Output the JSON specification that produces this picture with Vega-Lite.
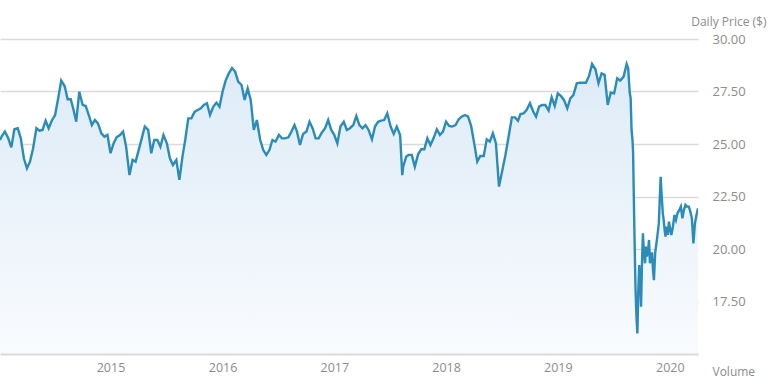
{
  "$schema": "https://vega.github.io/schema/vega-lite/v6.json",
  "width": 698,
  "height": 315,
  "autosize": {"type": "none"},
  "padding": {"left": 0, "top": 39, "right": 75, "bottom": 28},
  "background": "white",
  "config": {"view": {"stroke": null}, "font": "Open Sans"},
  "data": {"values": [
    {"date": "2014-07-05", "price": 25.19}, {"date": "2014-07-11", "price": 25.38}, {"date": "2014-07-21", "price": 25.59},
    {"date": "2014-08-01", "price": 25.27}, {"date": "2014-08-11", "price": 24.84}, {"date": "2014-08-21", "price": 25.70},
    {"date": "2014-09-01", "price": 25.75}, {"date": "2014-09-11", "price": 25.27}, {"date": "2014-09-21", "price": 24.32},
    {"date": "2014-10-01", "price": 23.84}, {"date": "2014-10-11", "price": 24.16}, {"date": "2014-10-21", "price": 24.79},
    {"date": "2014-11-01", "price": 25.75}, {"date": "2014-11-11", "price": 25.63}, {"date": "2014-11-21", "price": 25.67},
    {"date": "2014-12-01", "price": 26.11}, {"date": "2014-12-11", "price": 25.75}, {"date": "2014-12-21", "price": 26.11},
    {"date": "2015-01-01", "price": 26.38}, {"date": "2015-01-11", "price": 27.17}, {"date": "2015-01-21", "price": 28.02},
    {"date": "2015-02-01", "price": 27.76}, {"date": "2015-02-11", "price": 27.13}, {"date": "2015-02-21", "price": 27.13},
    {"date": "2015-03-01", "price": 26.70}, {"date": "2015-03-11", "price": 26.06}, {"date": "2015-03-21", "price": 27.49},
    {"date": "2015-04-01", "price": 26.86}, {"date": "2015-04-11", "price": 26.81}, {"date": "2015-04-21", "price": 26.38},
    {"date": "2015-05-01", "price": 25.90}, {"date": "2015-05-11", "price": 26.14}, {"date": "2015-05-21", "price": 25.98},
    {"date": "2015-06-01", "price": 25.51}, {"date": "2015-06-11", "price": 25.35}, {"date": "2015-06-21", "price": 25.43},
    {"date": "2015-07-01", "price": 24.56}, {"date": "2015-07-11", "price": 25.03}, {"date": "2015-07-21", "price": 25.32},
    {"date": "2015-08-01", "price": 25.43}, {"date": "2015-08-11", "price": 25.59}, {"date": "2015-08-21", "price": 24.87},
    {"date": "2015-09-01", "price": 23.52}, {"date": "2015-09-11", "price": 24.24}, {"date": "2015-09-21", "price": 24.16},
    {"date": "2015-10-01", "price": 24.71}, {"date": "2015-10-11", "price": 25.27}, {"date": "2015-10-21", "price": 25.83},
    {"date": "2015-11-01", "price": 25.67}, {"date": "2015-11-11", "price": 24.56}, {"date": "2015-11-21", "price": 25.19},
    {"date": "2015-12-01", "price": 25.19}, {"date": "2015-12-11", "price": 24.87}, {"date": "2015-12-21", "price": 25.43},
    {"date": "2016-01-01", "price": 25.03}, {"date": "2016-01-11", "price": 24.32}, {"date": "2016-01-21", "price": 24.00},
    {"date": "2016-02-01", "price": 24.24}, {"date": "2016-02-11", "price": 23.29}, {"date": "2016-02-21", "price": 24.40},
    {"date": "2016-03-01", "price": 25.19}, {"date": "2016-03-11", "price": 26.22}, {"date": "2016-03-21", "price": 26.22},
    {"date": "2016-04-01", "price": 26.54}, {"date": "2016-04-11", "price": 26.62}, {"date": "2016-04-21", "price": 26.70},
    {"date": "2016-05-01", "price": 26.86}, {"date": "2016-05-11", "price": 26.94}, {"date": "2016-05-21", "price": 26.38},
    {"date": "2016-06-01", "price": 26.78}, {"date": "2016-06-11", "price": 26.97}, {"date": "2016-06-21", "price": 26.78},
    {"date": "2016-07-01", "price": 27.49}, {"date": "2016-07-11", "price": 28.02}, {"date": "2016-07-21", "price": 28.35},
    {"date": "2016-08-01", "price": 28.62}, {"date": "2016-08-11", "price": 28.45}, {"date": "2016-08-21", "price": 27.97},
    {"date": "2016-09-01", "price": 27.81}, {"date": "2016-09-11", "price": 27.10}, {"date": "2016-09-21", "price": 27.65},
    {"date": "2016-10-01", "price": 27.10}, {"date": "2016-10-11", "price": 25.67}, {"date": "2016-10-21", "price": 26.14},
    {"date": "2016-11-01", "price": 25.19}, {"date": "2016-11-11", "price": 24.71}, {"date": "2016-11-21", "price": 24.48},
    {"date": "2016-12-01", "price": 24.71}, {"date": "2016-12-11", "price": 25.19}, {"date": "2016-12-21", "price": 25.11},
    {"date": "2017-01-01", "price": 25.43}, {"date": "2017-01-11", "price": 25.27}, {"date": "2017-01-21", "price": 25.27},
    {"date": "2017-02-01", "price": 25.32}, {"date": "2017-02-11", "price": 25.59}, {"date": "2017-02-21", "price": 25.90},
    {"date": "2017-03-01", "price": 25.59}, {"date": "2017-03-11", "price": 24.95}, {"date": "2017-03-21", "price": 25.48},
    {"date": "2017-04-01", "price": 25.59}, {"date": "2017-04-11", "price": 26.06}, {"date": "2017-04-21", "price": 25.75},
    {"date": "2017-05-01", "price": 25.27}, {"date": "2017-05-11", "price": 25.27}, {"date": "2017-05-21", "price": 25.54},
    {"date": "2017-06-01", "price": 25.75}, {"date": "2017-06-11", "price": 26.14}, {"date": "2017-06-21", "price": 25.67},
    {"date": "2017-07-01", "price": 25.43}, {"date": "2017-07-11", "price": 25.03}, {"date": "2017-07-21", "price": 25.83},
    {"date": "2017-08-01", "price": 26.06}, {"date": "2017-08-11", "price": 25.67}, {"date": "2017-08-21", "price": 25.75},
    {"date": "2017-09-01", "price": 25.90}, {"date": "2017-09-11", "price": 26.33}, {"date": "2017-09-21", "price": 25.90},
    {"date": "2017-10-01", "price": 25.75}, {"date": "2017-10-11", "price": 25.90}, {"date": "2017-10-21", "price": 25.67},
    {"date": "2017-11-01", "price": 25.22}, {"date": "2017-11-11", "price": 25.83}, {"date": "2017-11-21", "price": 26.06},
    {"date": "2017-12-01", "price": 26.11}, {"date": "2017-12-11", "price": 26.14}, {"date": "2017-12-21", "price": 26.46},
    {"date": "2018-01-01", "price": 25.83}, {"date": "2018-01-11", "price": 25.48}, {"date": "2018-01-21", "price": 25.83},
    {"date": "2018-02-01", "price": 25.43}, {"date": "2018-02-08", "price": 23.52}, {"date": "2018-02-11", "price": 23.92}, {"date": "2018-02-21", "price": 24.40},
    {"date": "2018-03-01", "price": 24.48}, {"date": "2018-03-11", "price": 24.48}, {"date": "2018-03-21", "price": 23.92},
    {"date": "2018-04-01", "price": 24.52}, {"date": "2018-04-11", "price": 24.75}, {"date": "2018-04-21", "price": 24.75},
    {"date": "2018-05-01", "price": 25.27}, {"date": "2018-05-11", "price": 24.95}, {"date": "2018-05-21", "price": 25.27},
    {"date": "2018-06-01", "price": 25.70}, {"date": "2018-06-11", "price": 25.43}, {"date": "2018-06-21", "price": 25.59},
    {"date": "2018-07-01", "price": 26.06}, {"date": "2018-07-11", "price": 25.86}, {"date": "2018-07-21", "price": 25.83},
    {"date": "2018-08-01", "price": 25.90}, {"date": "2018-08-11", "price": 26.17}, {"date": "2018-08-21", "price": 26.30},
    {"date": "2018-09-01", "price": 26.38}, {"date": "2018-09-11", "price": 26.30}, {"date": "2018-09-21", "price": 25.86},
    {"date": "2018-10-01", "price": 25.03}, {"date": "2018-10-11", "price": 24.16}, {"date": "2018-10-21", "price": 24.43},
    {"date": "2018-11-01", "price": 24.43}, {"date": "2018-11-11", "price": 25.22}, {"date": "2018-11-21", "price": 25.11},
    {"date": "2018-12-01", "price": 25.51}, {"date": "2018-12-11", "price": 25.03}, {"date": "2018-12-21", "price": 22.97},
    {"date": "2019-01-01", "price": 23.76}, {"date": "2019-01-11", "price": 24.48}, {"date": "2019-01-21", "price": 25.32},
    {"date": "2019-02-01", "price": 26.27}, {"date": "2019-02-11", "price": 26.27}, {"date": "2019-02-21", "price": 26.11},
    {"date": "2019-03-01", "price": 26.43}, {"date": "2019-03-11", "price": 26.46}, {"date": "2019-03-21", "price": 26.62},
    {"date": "2019-04-01", "price": 26.94}, {"date": "2019-04-11", "price": 26.57}, {"date": "2019-04-21", "price": 26.30},
    {"date": "2019-05-01", "price": 26.78}, {"date": "2019-05-11", "price": 26.86}, {"date": "2019-05-21", "price": 26.86},
    {"date": "2019-06-01", "price": 26.59}, {"date": "2019-06-11", "price": 27.22}, {"date": "2019-06-21", "price": 26.81},
    {"date": "2019-07-01", "price": 27.41}, {"date": "2019-07-11", "price": 27.29}, {"date": "2019-07-21", "price": 27.10},
    {"date": "2019-08-01", "price": 26.70}, {"date": "2019-08-11", "price": 27.17}, {"date": "2019-08-21", "price": 27.33},
    {"date": "2019-09-01", "price": 27.89}, {"date": "2019-09-11", "price": 27.92}, {"date": "2019-09-21", "price": 27.92},
    {"date": "2019-10-01", "price": 27.92}, {"date": "2019-10-11", "price": 28.24}, {"date": "2019-10-21", "price": 28.81},
    {"date": "2019-11-01", "price": 28.56}, {"date": "2019-11-11", "price": 27.89}, {"date": "2019-11-21", "price": 28.36},
    {"date": "2019-12-01", "price": 28.29}, {"date": "2019-12-11", "price": 26.86}, {"date": "2019-12-21", "price": 27.44},
    {"date": "2020-01-01", "price": 27.41}, {"date": "2020-01-11", "price": 28.13}, {"date": "2020-01-21", "price": 28.02},
    {"date": "2020-02-01", "price": 28.21}, {"date": "2020-02-11", "price": 28.81}, {"date": "2020-02-16", "price": 28.60},
    {"date": "2020-02-21", "price": 27.45}, {"date": "2020-02-24", "price": 27.18}, {"date": "2020-02-27", "price": 25.67},
    {"date": "2020-03-01", "price": 25.20}, {"date": "2020-03-03", "price": 24.60}, {"date": "2020-03-05", "price": 22.81},
    {"date": "2020-03-08", "price": 20.27}, {"date": "2020-03-11", "price": 18.05}, {"date": "2020-03-14", "price": 16.78},
    {"date": "2020-03-17", "price": 15.98}, {"date": "2020-03-20", "price": 18.05}, {"date": "2020-03-23", "price": 19.24},
    {"date": "2020-03-26", "price": 18.52}, {"date": "2020-03-29", "price": 17.25}, {"date": "2020-04-01", "price": 19.32},
    {"date": "2020-04-04", "price": 20.75}, {"date": "2020-04-07", "price": 19.95}, {"date": "2020-04-11", "price": 19.32},
    {"date": "2020-04-14", "price": 20.11}, {"date": "2020-04-17", "price": 19.64}, {"date": "2020-04-21", "price": 19.95},
    {"date": "2020-04-24", "price": 20.43}, {"date": "2020-04-27", "price": 19.32}, {"date": "2020-05-01", "price": 19.79},
    {"date": "2020-05-04", "price": 19.79}, {"date": "2020-05-07", "price": 19.00}, {"date": "2020-05-10", "price": 18.52},
    {"date": "2020-05-14", "price": 19.79}, {"date": "2020-05-21", "price": 20.59}, {"date": "2020-05-26", "price": 21.22},
    {"date": "2020-06-01", "price": 23.44}, {"date": "2020-06-04", "price": 22.65}, {"date": "2020-06-08", "price": 21.70},
    {"date": "2020-06-11", "price": 21.38}, {"date": "2020-06-14", "price": 20.90}, {"date": "2020-06-17", "price": 20.59},
    {"date": "2020-06-21", "price": 21.06}, {"date": "2020-06-25", "price": 20.67}, {"date": "2020-06-28", "price": 21.30},
    {"date": "2020-07-01", "price": 21.06}, {"date": "2020-07-06", "price": 20.67}, {"date": "2020-07-11", "price": 21.06},
    {"date": "2020-07-16", "price": 21.62}, {"date": "2020-07-21", "price": 21.38}, {"date": "2020-07-26", "price": 21.70},
    {"date": "2020-08-01", "price": 21.86}, {"date": "2020-08-06", "price": 22.02}, {"date": "2020-08-11", "price": 21.46},
    {"date": "2020-08-16", "price": 21.86}, {"date": "2020-08-21", "price": 22.10}, {"date": "2020-08-26", "price": 22.02},
    {"date": "2020-09-01", "price": 22.02}, {"date": "2020-09-06", "price": 21.78}, {"date": "2020-09-11", "price": 21.46},
    {"date": "2020-09-16", "price": 20.27}, {"date": "2020-09-21", "price": 21.22}, {"date": "2020-09-26", "price": 21.62},
    {"date": "2020-10-01", "price": 21.94}
  ]},
  "encoding": {
    "x": {
      "field": "date",
      "type": "temporal",
      "scale": {"domain": [{"year": 2014, "month": 7, "date": 5}, {"year": 2020, "month": 10, "date": 1}], "nice": false},
      "axis": {
        "values": [
          {"year": 2015, "month": 7, "date": 1}, {"year": 2016, "month": 7, "date": 1},
          {"year": 2017, "month": 7, "date": 1}, {"year": 2018, "month": 7, "date": 1},
          {"year": 2019, "month": 7, "date": 1}, {"year": 2020, "month": 7, "date": 1}
        ],
        "format": "%Y",
        "grid": false,
        "ticks": false,
        "domain": true,
        "domainColor": "#dadada",
        "domainWidth": 2,
        "labelColor": "#8c8c8c",
        "labelFont": "Open Sans",
        "labelFontSize": 12.5,
        "labelPadding": 7,
        "labelFlush": false,
        "title": "Volume",
        "titleFont": "Open Sans",
        "titleFontSize": 12,
        "titleFontWeight": "normal",
        "titleColor": "#8c8c8c",
        "titleAlign": "left",
        "titleBaseline": "middle",
        "titleAnchor": "start",
        "titleX": 712,
        "titleY": 17,
        "zindex": 1
      }
    },
    "y": {
      "field": "price",
      "type": "quantitative",
      "scale": {"domain": [15, 30], "zero": false, "nice": false},
      "axis": {
        "orient": "right",
        "values": [17.5, 20, 22.5, 25, 27.5, 30],
        "format": ".2f",
        "grid": true,
        "gridColor": "#dadada",
        "gridWidth": 1.5,
        "domain": false,
        "ticks": false,
        "labelColor": "#8c8c8c",
        "labelFont": "Open Sans",
        "labelFontSize": 13,
        "labelPadding": 14,
        "title": "Daily Price ($)",
        "titleFont": "Open Sans",
        "titleFontSize": 12,
        "titleFontWeight": "normal",
        "titleColor": "#8c8c8c",
        "titleAngle": 0,
        "titleAlign": "right",
        "titleBaseline": "middle",
        "titleX": 68,
        "titleY": -18
      }
    }
  },
  "layer": [
    {
      "mark": {
        "type": "area",
        "clip": true,
        "color": {
          "gradient": "linear",
          "x1": 0, "y1": 0, "x2": 0, "y2": 1,
          "stops": [
            {"offset": 0, "color": "#ddebf7"},
            {"offset": 1, "color": "#f9fbfe"}
          ]
        }
      },
      "encoding": {"y2": {"datum": 15}}
    },
    {
      "mark": {"type": "line", "color": "#2a8cb8", "strokeWidth": 2.4, "clip": true}
    }
  ]
}
